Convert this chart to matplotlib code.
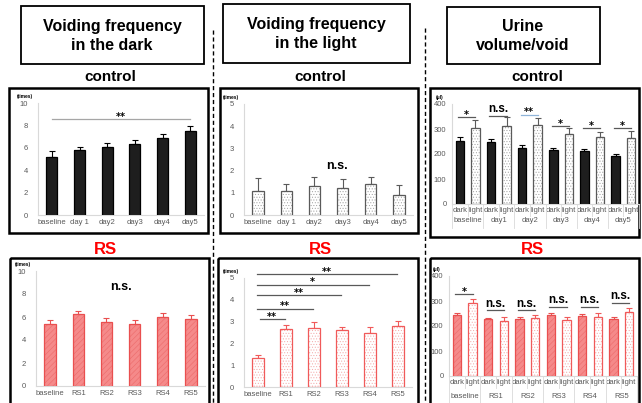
import numpy as np
import matplotlib
matplotlib.use('Agg')
import matplotlib.pyplot as plt
from matplotlib.patches import Rectangle

plt.rcParams['font.family'] = ['Liberation Sans', 'DejaVu Sans']
plt.rcParams['hatch.linewidth'] = 0.4

W, H = 642, 403

# ---- data ----
days_ctrl = ['baseline', 'day 1', 'day2', 'day3', 'day4', 'day5']
days_rs = ['baseline', 'RS1', 'RS2', 'RS3', 'RS4', 'RS5']
groups_ctrl = ['baseline', 'day1', 'day2', 'day3', 'day4', 'day5']
groups_rs = ['baseline', 'RS1', 'RS2', 'RS3', 'RS4', 'RS5']
phases = ['dark', 'light']

# voiding frequency in the dark (times)
ctrl_dark_freq = [5.2, 5.8, 6.1, 6.3, 6.9, 7.5]
ctrl_dark_freq_err = [0.55, 0.3, 0.35, 0.4, 0.35, 0.45]
rs_dark_freq = [5.4, 6.3, 5.6, 5.4, 6.0, 5.85]
rs_dark_freq_err = [0.3, 0.25, 0.3, 0.35, 0.35, 0.35]

# voiding frequency in the light (times)
ctrl_light_freq = [1.1, 1.1, 1.3, 1.2, 1.4, 0.9]
ctrl_light_freq_err = [0.55, 0.3, 0.4, 0.4, 0.3, 0.45]
rs_light_freq = [1.35, 2.65, 2.7, 2.6, 2.5, 2.8]
rs_light_freq_err = [0.12, 0.2, 0.3, 0.15, 0.25, 0.25]
rs_light_sig = ['**', '**', '**', '*', '**']
rs_light_sig_y = [3.1, 3.6, 4.2, 4.7, 5.2]

# urine volume/void (ul)
ctrl_vol_dark = [252, 248, 226, 216, 213, 192]
ctrl_vol_dark_err = [15, 12, 12, 10, 8, 10]
ctrl_vol_light = [305, 312, 318, 280, 268, 265]
ctrl_vol_light_err = [32, 38, 28, 25, 22, 28]
ctrl_vol_sig = ['*', 'n.s.', '**', '*', '*', '*']
ctrl_vol_sig_y = [349, 352, 358, 313, 303, 305]

rs_vol_dark = [245, 228, 228, 243, 242, 227]
rs_vol_dark_err = [8, 6, 10, 10, 8, 8]
rs_vol_light = [292, 220, 232, 225, 238, 255]
rs_vol_light_err = [18, 15, 12, 12, 14, 18]
rs_vol_sig = ['*', 'n.s.', 'n.s.', 'n.s.', 'n.s.', 'n.s.']
rs_vol_sig_y = [329, 263, 263, 276, 276, 293]

STYLES = {
    'ctrl_dark': dict(face='#1e1e1e', hatch=None, hcol='#1e1e1e', edge='#000000'),
    'ctrl_light': dict(face='white', hatch='......', hcol='#a0a0a0', edge='#5a5a5a'),
    'rs_dark': dict(face='#f58a8a', hatch='//////', hcol='#ec6a6a', edge='#e94f4f'),
    'rs_light': dict(face='white', hatch='......', hcol='#f4a8a8', edge='#f05a5a'),
}

fig = plt.figure(figsize=(W / 100, H / 100), dpi=100)

# background layer for boxes and headings
bg = fig.add_axes([0, 0, 1, 1])
bg.set_xlim(0, W)
bg.set_ylim(H, 0)
bg.axis('off')

def box(x0, y0, x1, y1, lw):
    bg.add_patch(Rectangle((x0, y0), x1 - x0, y1 - y0, fill=False, ec='black', lw=lw))

box(21, 6, 204, 64, 1.3)
box(223, 4, 410, 63, 1.3)
box(447, 7, 600, 64, 1.3)
hfont = dict(ha='center', va='center', fontsize=11.5, fontweight='bold', linespacing=1.3)
bg.text(112, 36, 'Voiding frequency\nin the dark', **hfont)
bg.text(316, 34, 'Voiding frequency\nin the light', **hfont)
bg.text(523, 36, 'Urine\nvolume/void', **hfont)

for cx in [110, 320, 537]:
    bg.text(cx, 77, 'control', ha='center', va='center', fontsize=11, fontweight='bold')
for cx in [105, 320, 532]:
    bg.text(cx, 250, 'RS', ha='center', va='center', fontsize=12, fontweight='bold', color='#ff0000')

bg.plot([213, 213], [30, 403], color='black', lw=1, ls=(0, (3, 2)))
bg.plot([425, 425], [28, 403], color='black', lw=1, ls=(0, (3, 2)))

box(9, 88, 208, 233, 1.8)
box(220, 88, 418, 233, 1.8)
box(430, 88, 639, 237, 1.8)
box(10, 258, 209, 410, 1.8)
box(218, 258, 418, 410, 1.8)
box(430, 258, 639, 410, 1.8)


def px_axes(x0, ytop, x1, ybot):
    return fig.add_axes([x0 / W, 1 - ybot / H, (x1 - x0) / W, (ybot - ytop) / H])


def style(ax, ymax, step, unit, pad=7, ux=-15):
    ax.set_ylim(0, ymax)
    ax.set_yticks(np.arange(0, ymax + step / 2, step))
    for s in ['top', 'right']:
        ax.spines[s].set_visible(False)
    ax.spines['left'].set_color('#d9d9d9')
    ax.spines['bottom'].set_color('#d9d9d9')
    ax.tick_params(axis='y', length=0, pad=pad, labelsize=5.5, labelcolor='#595959')
    ax.tick_params(axis='x', length=0, pad=3, labelsize=5.5, labelcolor='#595959')
    ax.patch.set_alpha(0)
    ax.annotate(unit, (0, 1), xycoords='axes fraction', xytext=(ux, 3),
                textcoords='offset points', fontsize=3.5, fontweight='bold', va='bottom')


def draw_bars(ax, x, vals, errs, st, width):
    s = STYLES[st]
    ax.bar(x, vals, width, color=s['face'], edgecolor=s['hcol'], hatch=s['hatch'], linewidth=0, zorder=2)
    ax.bar(x, vals, width, fill=False, edgecolor=s['edge'], linewidth=0.9, zorder=3)
    ax.errorbar(x, vals, yerr=[np.zeros(len(vals)), errs], fmt='none', ecolor=s['edge'],
                elinewidth=0.8, capsize=2, capthick=0.8, zorder=1)


def sig(ax, x0, x1, y, txt, color='#595959'):
    ax.plot([x0, x1], [y, y], color=color, lw=0.9, clip_on=False, zorder=4)
    if txt == 'n.s.':
        ax.annotate(txt, ((x0 + x1) / 2, y), xytext=(0, 0.5), textcoords='offset points',
                    ha='center', va='bottom', fontsize=8.5, fontweight='bold', annotation_clip=False)
    else:
        ax.annotate(txt, ((x0 + x1) / 2, y), xytext=(0, 1.5), textcoords='offset points',
                    ha='center', va='center', fontsize=7, fontweight='bold', annotation_clip=False,
                    family='DejaVu Sans')


def freq_panel(ax, labels, vals, errs, st, ymax, step):
    x = np.arange(len(vals))
    draw_bars(ax, x, vals, errs, st, 0.4)
    ax.set_xlim(-0.5, len(vals) - 0.5)
    ax.set_xticks(x, labels)
    style(ax, ymax, step, '(times)')
    return x


def vol_panel(ax, groups, dark, dark_err, light, light_err, st_d, st_l, sigs, sig_y, gy):
    n = len(groups)
    xd = np.arange(n) * 2
    xl = xd + 1
    draw_bars(ax, xd, dark, dark_err, st_d, 0.55)
    draw_bars(ax, xl, light, light_err, st_l, 0.55)
    ax.set_xlim(-0.5, 2 * n - 0.5)
    ax.set_xticks(np.arange(2 * n), phases * n)
    style(ax, 400, 100, '(\u03bcl)', pad=4, ux=-12)
    ax.tick_params(axis='x', pad=2)
    tr = ax.get_xaxis_transform()
    for i, g in enumerate(groups):
        ax.text(xd[i] + 0.5, gy, g, transform=tr, ha='center', va='center',
                fontsize=5.5, color='#595959', clip_on=False)
    for k in range(2 * n + 1):
        bottom = gy - 0.07 if k % 2 == 0 else -0.12
        ax.plot([k - 0.5, k - 0.5], [0, bottom], transform=tr, color='#d9d9d9', lw=0.6, clip_on=False)
    for i in range(n):
        col = '#8fb4d9' if sigs[i] == '**' and st_d == 'ctrl_dark' else '#595959'
        sig(ax, xd[i] - 0.1, xl[i], sig_y[i], sigs[i], col)


# control row
ax1 = px_axes(38, 103, 204, 215)
freq_panel(ax1, days_ctrl, ctrl_dark_freq, ctrl_dark_freq_err, 'ctrl_dark', 10, 2)
sig(ax1, 0, 5, 8.6, '**', '#a6a6a6')

ax2 = px_axes(244, 104, 413, 215)
freq_panel(ax2, days_ctrl, ctrl_light_freq, ctrl_light_freq_err, 'ctrl_light', 5, 1)
ax2.text(2.8, 2.2, 'n.s.', ha='center', va='center', fontsize=9, fontweight='bold')

ax3 = px_axes(452, 104, 639, 204)
vol_panel(ax3, groups_ctrl, ctrl_vol_dark, ctrl_vol_dark_err, ctrl_vol_light, ctrl_vol_light_err,
          'ctrl_dark', 'ctrl_light', ctrl_vol_sig, ctrl_vol_sig_y, -0.17)

# RS row
ax4 = px_axes(36, 271, 205, 386)
freq_panel(ax4, days_rs, rs_dark_freq, rs_dark_freq_err, 'rs_dark', 10, 2)
ax4.text(2.5, 8.6, 'n.s.', ha='center', va='center', fontsize=9, fontweight='bold')

ax5 = px_axes(244, 278, 412, 387)
freq_panel(ax5, days_rs, rs_light_freq, rs_light_freq_err, 'rs_light', 5, 1)
for i, (t, y) in enumerate(zip(rs_light_sig, rs_light_sig_y)):
    x0 = 0.06 if i == 0 else -0.05
    sig(ax5, x0, i + 1 - 0.05, y, t)

ax6 = px_axes(449, 276, 637, 376)
vol_panel(ax6, groups_rs, rs_vol_dark, rs_vol_dark_err, rs_vol_light, rs_vol_light_err,
          'rs_dark', 'rs_light', rs_vol_sig, rs_vol_sig_y, -0.21)

fig.savefig('out.png', dpi=100)
